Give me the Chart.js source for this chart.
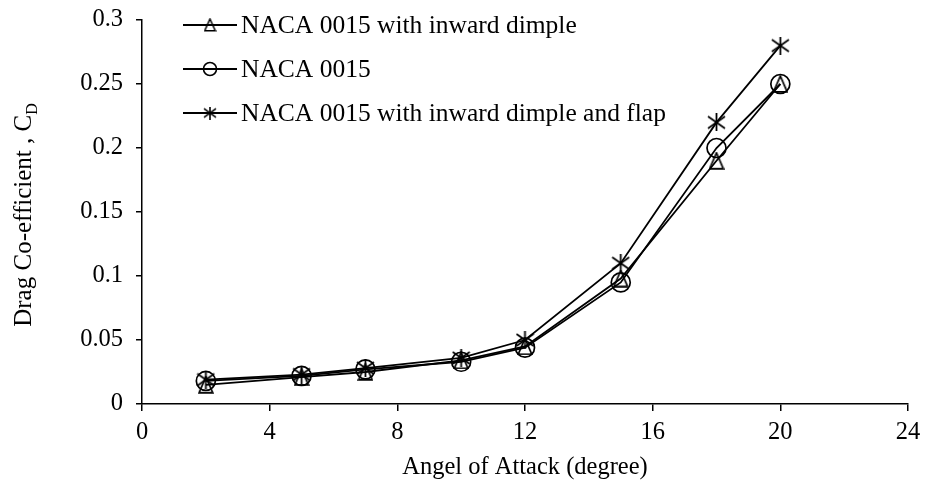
<!DOCTYPE html>
<html>
<head>
<meta charset="utf-8">
<script src="https://cdn.jsdelivr.net/npm/chart.js"></script>
<style>
  html, body { margin: 0; padding: 0; background: #ffffff; }
  #wrap { width: 926px; height: 487px; }
</style>
</head>
<body>
<div id="wrap"><canvas id="cd" width="926" height="487"></canvas></div>
<script>
// Angle of attack (degrees) and drag coefficient per configuration
const angles = [2, 5, 7, 10, 12, 15, 18, 20];
const cdDimple = [0.015, 0.021, 0.025, 0.034, 0.045, 0.098, 0.19, 0.25];
const cdBase = [0.018, 0.022, 0.027, 0.033, 0.044, 0.095, 0.20, 0.25];
const cdDimpleFlap = [0.019, 0.023, 0.028, 0.036, 0.050, 0.11, 0.22, 0.28];
const seriesNames = [
  'NACA 0015 with inward dimple',
  'NACA 0015',
  'NACA 0015 with inward dimple and flap'
];
const xTicks = [0, 4, 8, 12, 16, 20, 24];
const yTicks = [0, 0.05, 0.1, 0.15, 0.2, 0.25, 0.3];
const xTitle = 'Angel of Attack (degree)';
const yTitle = 'Drag Co-efficient , C';
const yTitleSub = 'D';

const FONT = '"Liberation Serif", "Times New Roman", serif';

// Hollow triangle and six-armed asterisk markers drawn onto small canvases
function triangleMarker(w, h, lw) {
  const c = document.createElement('canvas');
  c.width = w + 2; c.height = h + 2;
  const g = c.getContext('2d');
  g.strokeStyle = '#000'; g.lineWidth = lw; g.lineJoin = 'miter';
  g.beginPath();
  g.moveTo(c.width / 2, 1);
  g.lineTo(c.width - 1.2, c.height - 1.2);
  g.lineTo(1.2, c.height - 1.2);
  g.closePath();
  g.stroke();
  return c;
}
function asteriskMarker(w, h, lw) {
  const c = document.createElement('canvas');
  c.width = w; c.height = h;
  const g = c.getContext('2d');
  g.strokeStyle = '#000'; g.lineWidth = lw;
  g.beginPath();
  g.moveTo(w / 2, 0); g.lineTo(w / 2, h);
  g.moveTo(1, h * 0.17); g.lineTo(w - 1, h * 0.83);
  g.moveTo(w - 1, h * 0.17); g.lineTo(1, h * 0.83);
  g.stroke();
  return c;
}

const triImg = triangleMarker(14, 16, 1.7);
const starImg = asteriskMarker(19, 18, 1.8);
const triSmall = triangleMarker(11, 12, 1.5);
const starSmall = asteriskMarker(14, 13, 1.6);

const toPoints = (vals) => angles.map((a, i) => ({ x: a, y: vals[i] }));

const datasets = [
  { label: seriesNames[0], data: toPoints(cdDimple), pointStyle: triImg, legendMark: 'tri' },
  { label: seriesNames[1], data: toPoints(cdBase), pointStyle: 'circle', legendMark: 'circle' },
  { label: seriesNames[2], data: toPoints(cdDimpleFlap), pointStyle: starImg, legendMark: 'star' }
].map(d => Object.assign({
  borderColor: '#000',
  borderWidth: 1.8,
  backgroundColor: 'rgba(0,0,0,0)',
  pointBackgroundColor: 'rgba(0,0,0,0)',
  pointBorderColor: '#000',
  pointBorderWidth: 1.7,
  pointRadius: 9.5,
  tension: 0,
  fill: false
}, d));

// Key with a short line segment and marker for each series, inside the plot
const seriesKey = {
  id: 'seriesKey',
  afterDraw(chart) {
    const ctx = chart.ctx;
    const area = chart.chartArea;
    const x0 = area.left + 41, x1 = area.left + 95, tx = area.left + 99;
    const rows = [area.top + 5, area.top + 49, area.top + 93];
    ctx.save();
    chart.data.datasets.forEach((ds, i) => {
      const y = rows[i];
      const cx = (x0 + x1) / 2;
      ctx.strokeStyle = '#000';
      ctx.lineWidth = 1.8;
      ctx.beginPath();
      ctx.moveTo(x0, y); ctx.lineTo(x1, y);
      ctx.stroke();
      if (ds.legendMark === 'circle') {
        ctx.lineWidth = 1.6;
        ctx.beginPath();
        ctx.arc(cx, y, 6.5, 0, Math.PI * 2);
        ctx.stroke();
      } else {
        const img = ds.legendMark === 'tri' ? triSmall : starSmall;
        ctx.drawImage(img, cx - img.width / 2, y - img.height / 2);
      }
      ctx.fillStyle = '#000';
      ctx.font = '25.5px ' + FONT;
      ctx.textAlign = 'left';
      ctx.textBaseline = 'middle';
      ctx.fillText(ds.label, tx, y + 1.5);
    });
    ctx.restore();
  }
};

// Rotated vertical axis title with a subscript
const yAxisTitle = {
  id: 'yAxisTitle',
  afterDraw(chart) {
    const ctx = chart.ctx;
    const area = chart.chartArea;
    const cy = (area.top + area.bottom) / 2 + 3;
    const baseX = 31;
    ctx.save();
    ctx.fillStyle = '#000';
    ctx.font = '25px ' + FONT;
    const wMain = ctx.measureText(yTitle).width;
    ctx.font = '16px ' + FONT;
    const wSub = ctx.measureText(yTitleSub).width;
    const total = wMain + wSub;
    ctx.translate(baseX, cy);
    ctx.rotate(-Math.PI / 2);
    ctx.textAlign = 'left';
    ctx.textBaseline = 'alphabetic';
    ctx.font = '25px ' + FONT;
    ctx.fillText(yTitle, -total / 2, 0);
    ctx.font = '16px ' + FONT;
    ctx.fillText(yTitleSub, -total / 2 + wMain, 5.5);
    ctx.restore();
  }
};

new Chart(document.getElementById('cd'), {
  type: 'line',
  data: { datasets },
  options: {
    responsive: false,
    animation: false,
    devicePixelRatio: 1,
    layout: { padding: { left: 0, top: 20, right: 18, bottom: 0 } },
    plugins: {
      legend: { display: false },
      tooltip: { enabled: false }
    },
    scales: {
      x: {
        type: 'linear',
        min: xTicks[0],
        max: xTicks[xTicks.length - 1],
        afterBuildTicks: (s) => { s.ticks = xTicks.map(v => ({ value: v })); },
        afterFit: (s) => { s.height = 83; s.paddingLeft = 0; s.paddingRight = 0; },
        border: { display: true, color: '#000', width: 1.5 },
        grid: { display: true, drawOnChartArea: false, drawTicks: true, tickLength: 7, color: '#000', lineWidth: 1.5 },
        ticks: {
          color: '#000',
          padding: 7,
          maxRotation: 0,
          font: { family: FONT, size: 24.5 },
          callback: (v) => String(v)
        },
        title: {
          display: true,
          text: xTitle,
          color: '#000',
          font: { family: FONT, size: 24.5 },
          padding: { top: 0, bottom: 5 }
        }
      },
      y: {
        type: 'linear',
        min: yTicks[0],
        max: yTicks[yTicks.length - 1],
        afterBuildTicks: (s) => { s.ticks = yTicks.map(v => ({ value: v })); },
        afterFit: (s) => { s.width = 142; s.paddingTop = 0; s.paddingBottom = 0; },
        border: { display: true, color: '#000', width: 1.5 },
        grid: { display: true, drawOnChartArea: false, drawTicks: true, tickLength: 6, color: '#000', lineWidth: 1.5 },
        ticks: {
          color: '#000',
          padding: 13,
          font: { family: FONT, size: 24.5 },
          callback: (v) => String(Number(v.toFixed(2)))
        }
      }
    }
  },
  plugins: [seriesKey, yAxisTitle]
});
</script>
</body>
</html>
